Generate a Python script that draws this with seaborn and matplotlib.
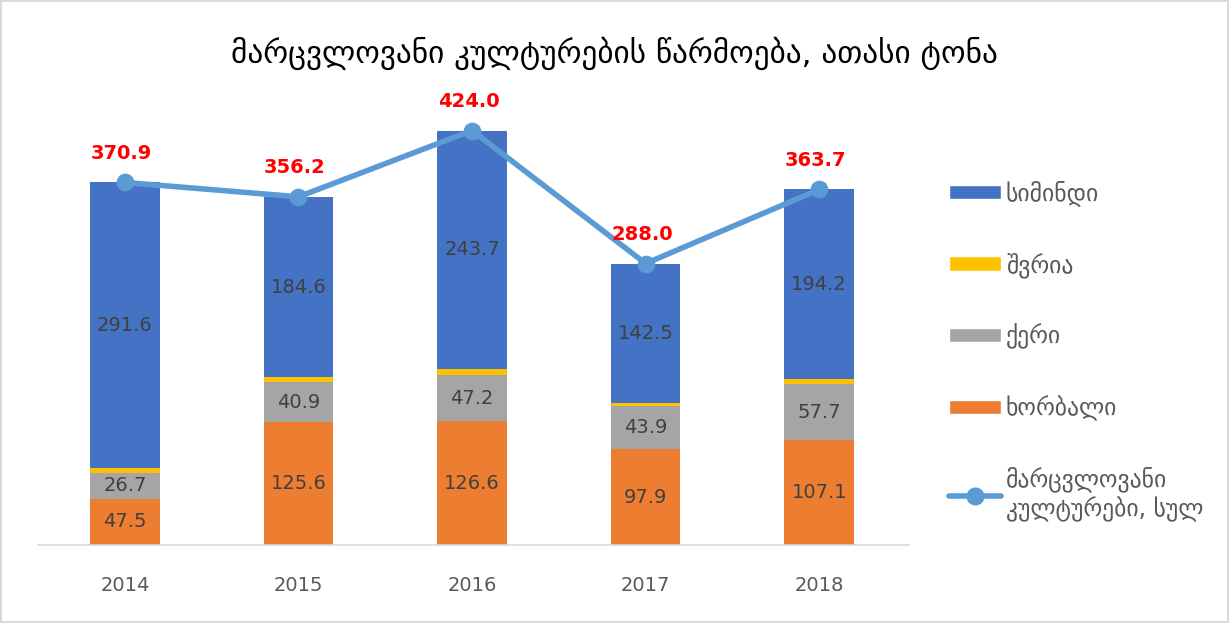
import numpy as np
import pandas as pd
import matplotlib
matplotlib.use("Agg")
import matplotlib.pyplot as plt
import seaborn as sns
from matplotlib.patches import Patch
from matplotlib.lines import Line2D

years = ["2014", "2015", "2016", "2017", "2018"]
wheat = [47.5, 125.6, 126.6, 97.9, 107.1]
barley = [26.7, 40.9, 47.2, 43.9, 57.7]
oats = [5.1, 5.1, 6.5, 3.7, 4.7]
maize = [291.6, 184.6, 243.7, 142.5, 194.2]
total = [370.9, 356.2, 424.0, 288.0, 363.7]

series_names = ["სიმინდი", "შვრია", "ქერი", "ხორბალი"]
total_name = "მარცვლოვანი\nკულტურები, სულ"
title = "მარცვლოვანი კულტურების წარმოება, ათასი ტონა"

sns.set_style("white")
plt.rcParams['font.family'] = ['DejaVu Sans']

colors = {"wheat": "#ED7D31", "barley": "#A5A5A5", "oats": "#FFC000", "maize": "#4472C4"}
line_color = "#5B9BD5"

fig = plt.figure(figsize=(12.29, 6.23), dpi=100)
fig.patch.set_edgecolor("#D9D9D9")
fig.patch.set_linewidth(1.5)
ax = fig.add_axes([0.031, 0.125, 0.709, 0.722])

df = pd.DataFrame({"year": years, "wheat": wheat, "barley": barley,
                   "oats": oats, "maize": maize, "total": total})
bottom = np.zeros(len(years))
layers = [("wheat", wheat), ("barley", barley), ("oats", oats), ("maize", maize)]
for key, vals in layers:
    sns.barplot(data=df, x="year", y=key, bottom=bottom, color=colors[key],
                width=0.4, ax=ax, saturation=1, edgecolor="none")
    vals = np.array(vals)
    if key != "oats":
        for i, v in enumerate(vals):
            ax.text(i, bottom[i] + v / 2, f"{v:.1f}", ha="center", va="center",
                    fontsize=14, color="#404040")
    bottom = bottom + vals

sns.lineplot(x=np.arange(len(years)), y=total, ax=ax, color=line_color,
             linewidth=4, marker="o", markersize=12, markeredgecolor=line_color)
for i, v in enumerate(total):
    ax.text(i - 0.02, v + 20, f"{v:.1f}", ha="center", va="bottom",
            fontsize=14, color="#FF0000", fontweight="bold")

ax.set_xlim(-0.5, 4.52)
ax.set_ylim(0, 460)
ax.set_xlabel("")
ax.set_ylabel("")
ax.set_yticks([])
ax.tick_params(axis="x", length=0, labelsize=14, labelcolor="#595959", pad=22)
for s in ["top", "right", "left"]:
    ax.spines[s].set_visible(False)
ax.spines["bottom"].set_color("#D9D9D9")
ax.spines["bottom"].set_linewidth(1.2)

fig.text(0.5, 0.915, title, ha="center", va="center", fontsize=22.5, color="black")

handles = [Patch(facecolor=colors["maize"]), Patch(facecolor=colors["oats"]),
           Patch(facecolor=colors["barley"]), Patch(facecolor=colors["wheat"]),
           Line2D([0], [0], color=line_color, linewidth=4, marker="o", markersize=12)]
labels = series_names + [total_name]
fig.legend(handles, labels, loc="upper left", bbox_to_anchor=(0.755, 0.745),
           frameon=False, fontsize=17, labelcolor="#595959", labelspacing=1.95,
           handlelength=2.2, handleheight=0.55, handletextpad=0.2)

fig.savefig("out.png", dpi=100)
